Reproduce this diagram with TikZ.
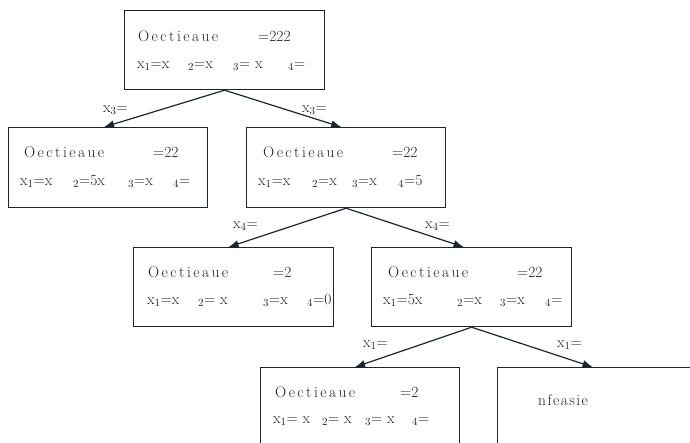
\documentclass[tikz,border=0pt]{standalone}
\usetikzlibrary{arrows.meta,calc}
\definecolor{ln}{HTML}{1A2530}
\definecolor{tx}{HTML}{222222}
\newcommand\Oct{O\kern2.4pt e\kern2.4pt c\kern2.4pt t\kern2.4pt i\kern2.4pt e\kern2.4pt a\kern2.4pt u\kern2.4pt e}
\newcommand\Infe{n\kern1.4pt f\kern1.4pt e\kern1.4pt a\kern1.4pt s\kern1.4pt i\kern1.4pt e}
\tikzset{
  box/.style={draw=ln, line width=1.2pt, inner sep=0pt, minimum width=200pt, minimum height=79pt, anchor=north west},
  txt/.style={inner sep=0pt, anchor=base west, text=tx, font=\fontsize{15.5}{18}\selectfont},
  conn/.style={draw=ln, line width=1.2pt, -{Latex[length=10pt,width=7.5pt]}},
}
\begin{document}
\begin{tikzpicture}[x=1pt,y=-1pt]
\useasboundingbox (0,0) rectangle (690,442);
\clip (0,0) rectangle (690,442);
% boxes
\node[box] (root) at (124,10) {};
\node[box, minimum width=199pt, minimum height=80pt] (L1) at (8,127) {};
\node[box, minimum width=199pt, minimum height=80pt] (R1) at (246,127) {};
\node[box] (L2) at (133,247) {};
\node[box] (R2) at (371,247) {};
\node[box, minimum width=199pt] (L3) at (260,367) {};
\node[box] (R3) at (497,367) {};
% root text
\node[txt] (r1) at (138,41) {\Oct};
\node[txt] (r2) at (258,41) {=222};
\node[txt] (r3) at (137,68) {x$_1$=x};
\node[txt] (r4) at (188,68) {$_2$=x};
\node[txt] (r5) at (233,68) {$_3$= x};
\node[txt] (r6) at (288,68) {$_4$=};
% L1 text
\node[txt] (a1) at (24,157) {\Oct};
\node[txt] (a2) at (153,157) {=22};
\node[txt] (a3) at (20,185) {x$_1$=x};
\node[txt] (a4) at (73,185) {$_2$=5x};
\node[txt] (a5) at (128,185) {$_3$=x};
\node[txt] (a6) at (173,185) {$_4$=};
% R1 text
\node[txt] (b1) at (263,157) {\Oct};
\node[txt] (b2) at (392,157) {=22};
\node[txt] (b3) at (258,185) {x$_1$=x};
\node[txt] (b4) at (312,185) {$_2$=x};
\node[txt] (b5) at (352,185) {$_3$=x};
\node[txt] (b6) at (398,185) {$_4$=5};
% L2 text
\node[txt] (c1) at (148,277) {\Oct};
\node[txt] (c2) at (273,277) {=2};
\node[txt] (c3) at (147,304) {x$_1$=x};
\node[txt] (c4) at (198,304) {$_2$= x};
\node[txt] (c5) at (263,304) {$_3$=x};
\node[txt] (c6) at (307,304) {$_4$=0};
% R2 text
\node[txt] (d1) at (388,277) {\Oct};
\node[txt] (d2) at (517,277) {=22};
\node[txt] (d3) at (383,304) {x$_1$=5x};
\node[txt] (d4) at (457,304) {$_2$=x};
\node[txt] (d5) at (500,304) {$_3$=x};
\node[txt] (d6) at (545,304) {$_4$=};
% L3 text
\node[txt] (e1) at (275,397) {\Oct};
\node[txt] (e2) at (400,397) {=2};
\node[txt] (e3) at (273,423) {x$_1$= x};
\node[txt] (e4) at (322,423) {$_2$= x};
\node[txt] (e5) at (365,423) {$_3$= x};
\node[txt] (e6) at (412,423) {$_4$=};
% R3 text
\node[txt] (f1) at (538,405) {\Infe};
% connectors
\draw[conn] (root.south) -- ($(L1.north)+(-4,0)$);
\draw[conn] (root.south) -- ($(R1.north)+(-5,0)$);
\draw[conn] (R1.south) -- ($(L2.north)+(-5,0)$);
\draw[conn] (R1.south) -- ($(R2.north)+(-8,0)$);
\draw[conn] (R2.south) -- ($(L3.north)+(-5,0)$);
\draw[conn] (R2.south) -- ($(R3.north)+(-5,0)$);
% connector labels
\node[txt] (l1) at (103,112) {x$_3$=};
\node[txt] (l2) at (302,112) {x$_3$=};
\node[txt] (l3) at (233,228) {x$_4$=};
\node[txt] (l4) at (425,228) {x$_4$=};
\node[txt] (l5) at (363,347) {x$_1$=};
\node[txt] (l6) at (557,347) {x$_1$=};
\end{tikzpicture}
\end{document}
